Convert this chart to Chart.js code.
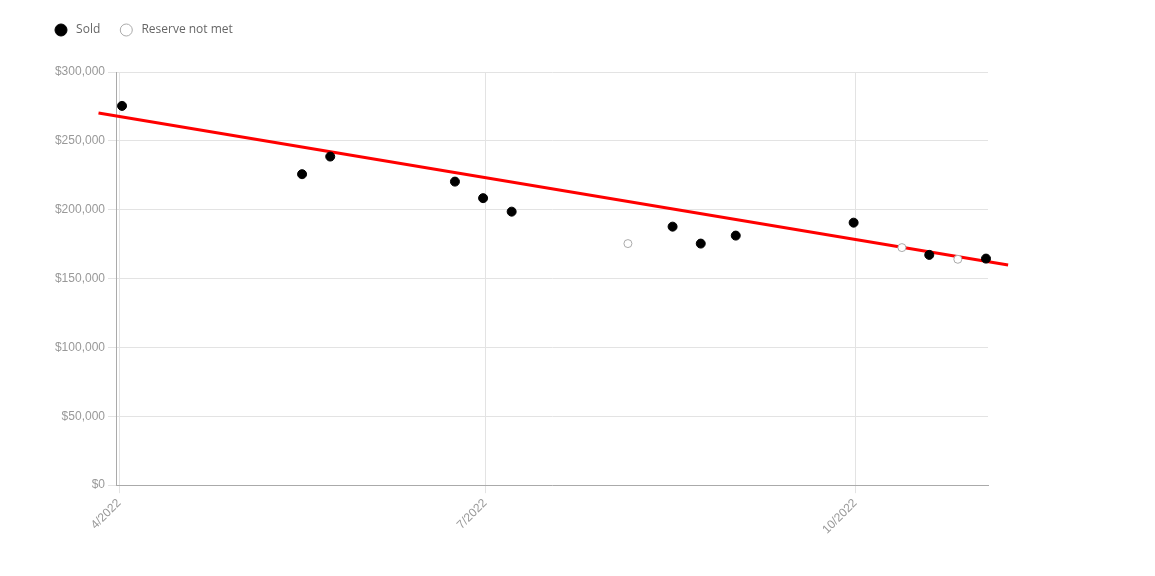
<!DOCTYPE html>
<html>
<head>
<meta charset="utf-8">
<script src="https://cdn.jsdelivr.net/npm/chart.js@4"></script>
<style>
    html, body { margin: 0; padding: 0; background: #fff; }
    #wrap { width: 1155px; height: 576px; position: relative; }
</style>
</head>
<body>
<div id="wrap"><canvas id="chart"></canvas></div>
<script>
// x values are days counted from 1 April 2022
const soldDays = [0.75, 45.5, 52.5, 83.5, 90.5, 97.6, 137.6, 144.6, 153.3, 182.6, 201.4, 215.5];
const soldPrices = [275400, 225800, 238600, 220400, 208400, 198600, 187700, 175400, 181200, 190600, 167200, 164500];

const reserveDays = [126.5, 194.6, 208.5];
const reservePrices = [175400, 172500, 164000];

const trendDays = [-5.1, 221];
const trendPrices = [270300, 159900];

const xTickDays = [0, 91, 183];
const xTickLabels = ['4/2022', '7/2022', '10/2022'];

const yTicks = [0, 50000, 100000, 150000, 200000, 250000, 300000];

function toPoints(xs, ys) {
    return xs.map((x, i) => ({x: x, y: ys[i]}));
}

const tickFont = {family: 'Liberation Sans, Arial, sans-serif', size: 12};

// push the plot area down below the legend
const legendMargin = {
    id: 'legendMargin',
    beforeInit(chart) {
        const fit = chart.legend.fit;
        chart.legend.fit = function () {
            fit.bind(chart.legend)();
            this.height += 26;
        };
    }
};

let ctx = document.getElementById('chart').getContext('2d');

new Chart(ctx, {
    type: 'scatter',
    data: {
        datasets: [
            {
                label: 'Sold',
                data: toPoints(soldDays, soldPrices),
                pointRadius: 4.5,
                pointBackgroundColor: '#000',
                pointBorderColor: '#000',
                pointBorderWidth: 1,
                backgroundColor: '#000',
                borderColor: '#000',
                clip: false,
            },
            {
                label: 'Reserve not met',
                data: toPoints(reserveDays, reservePrices),
                pointRadius: 4,
                pointBackgroundColor: '#fff',
                pointBorderColor: '#aaa',
                pointBorderWidth: 1,
                backgroundColor: '#fff',
                borderColor: '#aaa',
                clip: false,
            },
            {
                type: 'line',
                label: 'trend',
                data: toPoints(trendDays, trendPrices),
                borderColor: '#ff0000',
                borderWidth: 3,
                pointRadius: 0,
                fill: false,
                clip: false,
            }
        ]
    },
    options: {
        responsive: true,
        maintainAspectRatio: false,
        animation: false,
        layout: {
            padding: {left: 35, right: 167, top: 4, bottom: 36}
        },
        plugins: {
            tooltip: {enabled: false},
            legend: {
                position: 'top',
                align: 'start',
                labels: {
                    usePointStyle: true,
                    pointStyle: 'circle',
                    boxHeight: 8.5,
                    padding: 20,
                    color: '#666',
                    font: {family: 'Open Sans, sans-serif', size: 12},
                    generateLabels: chart => {
                        const items = Chart.defaults.plugins.legend.labels.generateLabels(chart);
                        items.forEach(item => { item.text = ' ' + item.text; });
                        return items;
                    },
                    filter: item => item.datasetIndex !== 2,
                }
            }
        },
        scales: {
            x: {
                type: 'linear',
                min: -0.75,
                max: 216,
                afterBuildTicks: axis => {
                    axis.ticks = xTickDays.map(v => ({value: v}));
                },
                ticks: {
                    minRotation: 45,
                    maxRotation: 45,
                    color: '#999',
                    font: tickFont,
                    callback: value => xTickLabels[xTickDays.indexOf(value)],
                },
                grid: {color: '#e3e3e3'},
                border: {color: '#aaa'},
            },
            y: {
                min: 0,
                max: 300000,
                afterBuildTicks: axis => {
                    axis.ticks = yTicks.map(v => ({value: v}));
                },
                afterFit: axis => {
                    axis.width = 81;
                },
                ticks: {
                    color: '#999',
                    font: tickFont,
                    callback: value => '$' + value.toLocaleString('en-US'),
                },
                grid: {color: '#e3e3e3'},
                border: {color: '#aaa'},
            }
        }
    },
    plugins: [legendMargin]
});
</script>
</body>
</html>
